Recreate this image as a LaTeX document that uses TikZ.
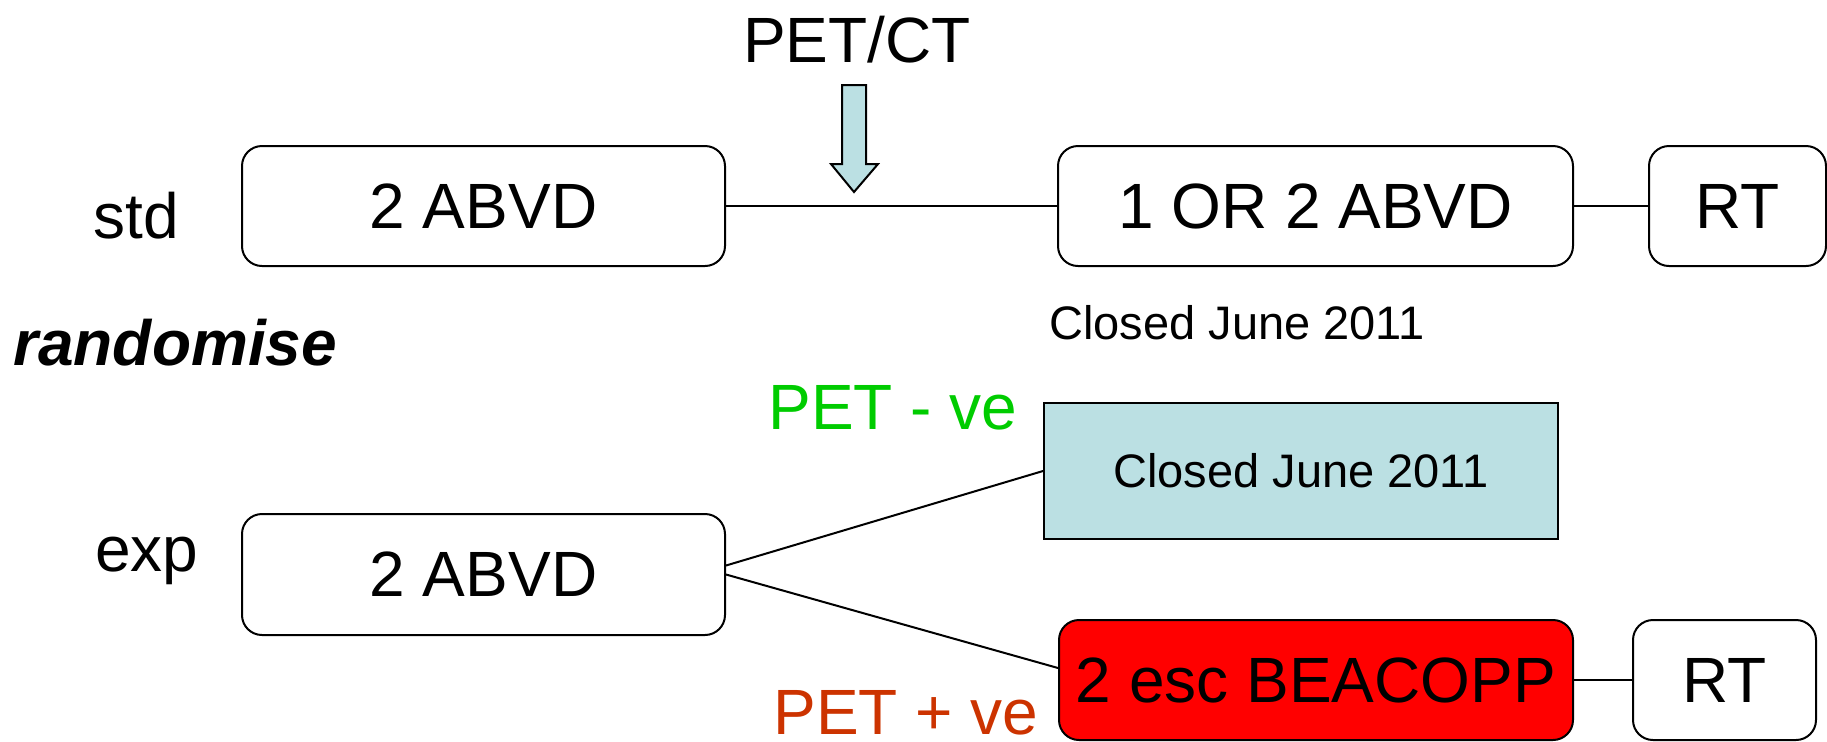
\documentclass[tikz,border=0pt]{standalone}
\usepackage{fontspec}
\setmainfont{Liberation Sans}
\definecolor{paleblue}{HTML}{BBE0E3}
\definecolor{petneg}{HTML}{00CC00}
\definecolor{petpos}{HTML}{CC3300}
\newcommand{\bigtxt}{\fontsize{32}{38}\selectfont}
\newcommand{\smalltxt}{\fontsize{23.5}{28}\selectfont}
\tikzset{
  rbox/.style={draw=black, line width=1pt, rounded corners=10pt, inner sep=0pt,
    font=\bigtxt, fill=white},
  sqbox/.style={draw=black, line width=1pt, inner sep=0pt, font=\smalltxt, fill=paleblue},
  link/.style={draw=black, line width=1pt},
  lbl/.style={anchor=base, inner sep=0pt, font=\bigtxt},
}
\begin{document}
\begin{tikzpicture}[x=0.5pt, y=-0.5pt]
\useasboundingbox (0,0) rectangle (1827,741);

% standard arm
\node[rbox, minimum width=241.5pt, minimum height=60pt] (A1) at (483.5,206) {2 ABVD};
\node[rbox, minimum width=257.5pt, minimum height=60pt] (B1) at (1315.5,206) {1 OR 2 ABVD};
\node[rbox, minimum width=88.5pt, minimum height=60pt] (R1) at (1737.5,206) {RT};
\draw[link] (A1.east) -- (B1.west);
\draw[link] (B1.east) -- (R1.west);

% PET/CT scan marker
\node[lbl] (pet) at (857,62) {PET/CT};
\draw[line width=1pt, fill=paleblue, line join=miter]
  (842,85) -- (866,85) -- (866,164) -- (878,164) -- (854,192)
  -- (831,164) -- (842,164) -- cycle;

\node[lbl] (std) at (136,238) {std};
\node[lbl, anchor=base west, font=\bigtxt\bfseries\itshape] (rand) at (13,365) {randomise};
\node[lbl, font=\smalltxt] (closed1) at (1237,339) {Closed June 2011};

% experimental arm
\node[lbl] (exp) at (147,571) {exp};
\node[rbox, minimum width=241.5pt, minimum height=60.5pt] (A2) at (483.5,574.5) {2 ABVD};
\node[sqbox, minimum width=257pt, minimum height=68pt] (C) at (1301,471) {Closed June 2011};
\node[rbox, fill=red, minimum width=257pt, minimum height=60pt] (D) at (1316,680) {2 esc BEACOPP};
\node[rbox, minimum width=91.5pt, minimum height=60pt] (R2) at (1724.5,680) {RT};
\draw[link] ([yshift=4.5pt]A2.east) -- (C.west);
\draw[link] (A2.east) -- ([yshift=6pt]D.west);
\draw[link] (D.east) -- (R2.west);

\node[lbl, text=petneg] (neg) at (893,429) {PET - ve};
\node[lbl, text=petpos] (pos) at (906,734) {PET + ve};
\end{tikzpicture}
\end{document}
